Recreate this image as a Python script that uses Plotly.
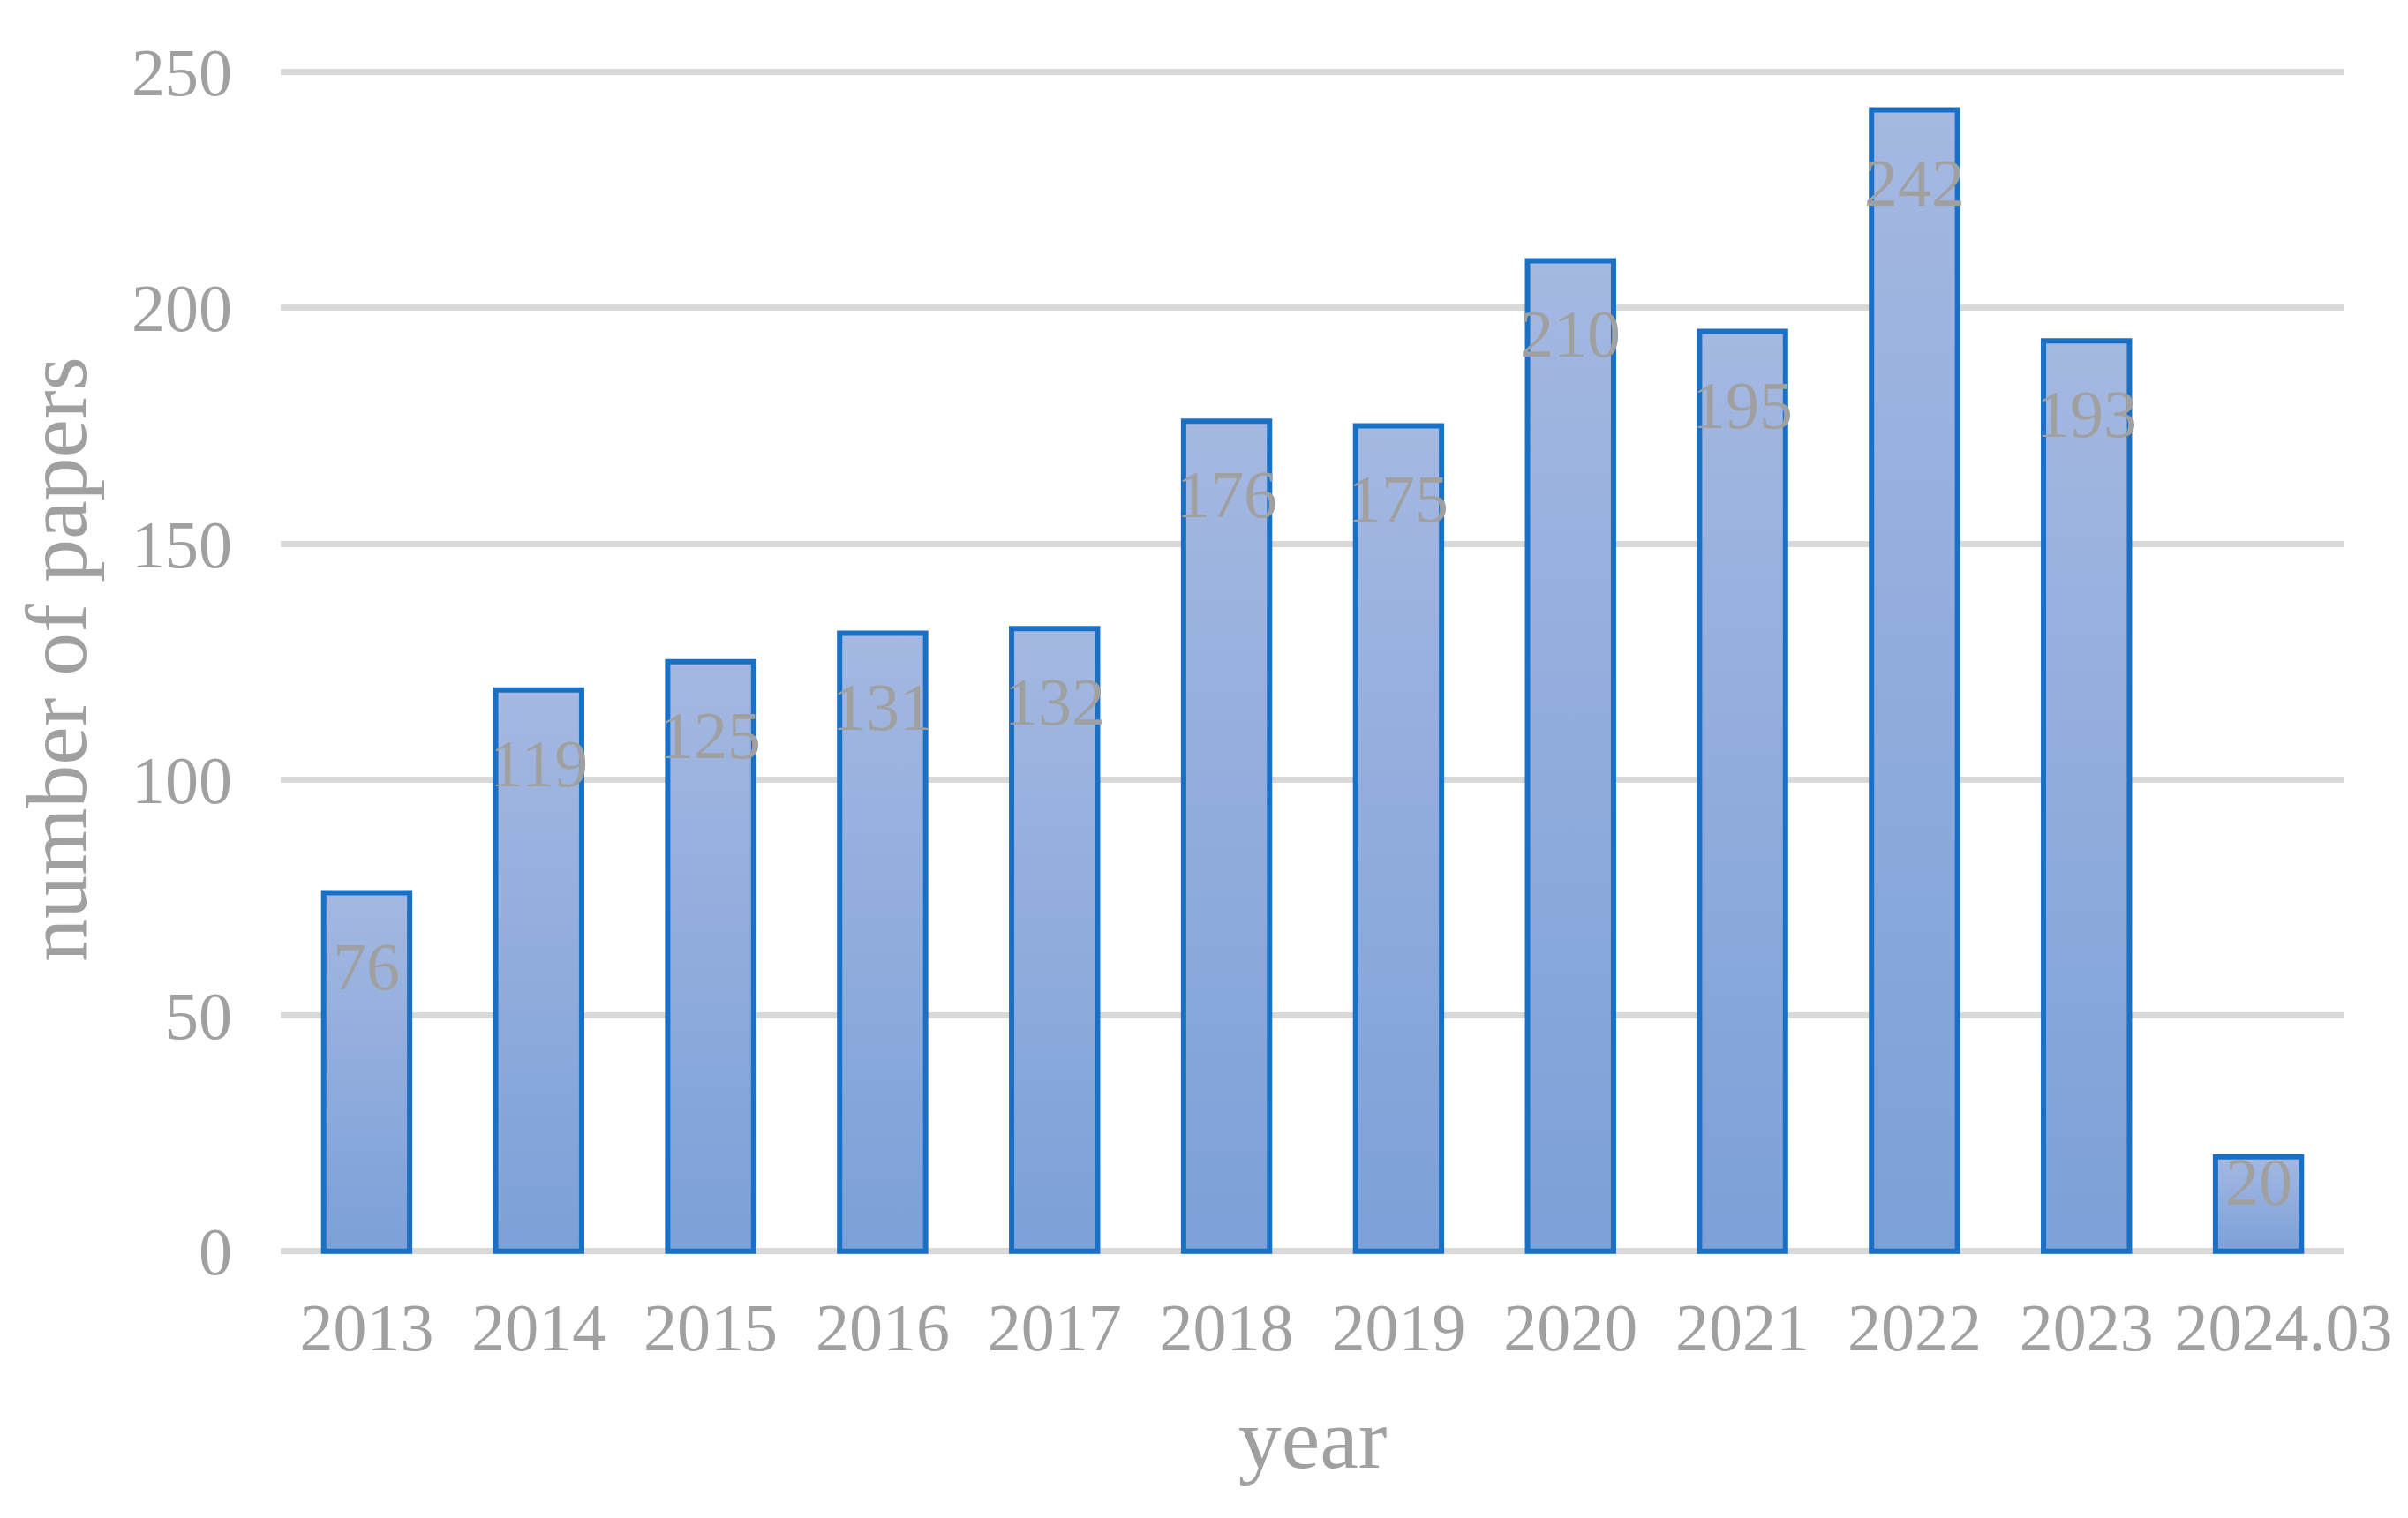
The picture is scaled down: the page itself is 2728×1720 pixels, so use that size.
import plotly.graph_objects as go

years = ['2013', '2014', '2015', '2016', '2017', '2018', '2019', '2020',
         '2021', '2022', '2023', '2024.03']
papers = [76, 119, 125, 131, 132, 176, 175, 210, 195, 242, 193, 20]
y_ticks = [0, 50, 100, 150, 200, 250]

GRAY = '#a0a0a0'
FONT = 'Times New Roman, Liberation Serif, serif'

# the last label is nudged right in the original so it clears "2023"
tick_text = years[:-1] + ['\u00a0\u00a0\u00a0' + years[-1]]

fig = go.Figure()
fig.add_trace(go.Bar(
    x=years,
    y=papers,
    width=0.5,
    marker=dict(color='#90abdc', line=dict(color='#1a70c4', width=6)),
    hoverinfo='x+y',
))

# value labels sit a fixed distance below the bar top (closer for short bars)
# numeric-looking category names get read as positions by annotations, so use the index
for i, val in enumerate(papers):
    fig.add_annotation(
        x=i, y=val, text=str(val), showarrow=False,
        yanchor='middle', yshift=-83 if val > 40 else -28,
        font=dict(family=FONT, size=76, color=GRAY),
    )

fig.update_layout(
    width=2728,
    height=1720,
    margin=dict(l=318, r=72, t=71, b=297, autoexpand=False),
    paper_bgcolor='white',
    plot_bgcolor='white',
    showlegend=False,
    font=dict(family=FONT, size=76, color=GRAY),
)

fig.update_xaxes(
    type='category',
    range=[-0.5, len(years) - 0.5],
    tickvals=years,
    ticktext=tick_text,
    tickangle=0,
    title=dict(text='year', font=dict(size=98, color=GRAY), standoff=49),
    showgrid=False,
    showline=False,
    ticks='',
    ticklabelstandoff=30,
    automargin=False,
)
fig.update_yaxes(
    title=dict(text='number of papers', font=dict(size=98, color=GRAY), standoff=18),
    range=[-1, 252],
    tickvals=y_ticks,
    showgrid=True,
    gridcolor='#d9d9d9',
    gridwidth=6.5,
    zeroline=False,
    showline=False,
    ticks='',
    ticklabelstandoff=54,
    automargin=False,
)

# drop the page margin and give the bars a vertical gradient, like the original
post = """
document.body.style.margin = '0';
var gd = document.getElementById('{plot_id}');
function paint() {
  var svg = gd.querySelector('svg.main-svg');
  var ns = 'http://www.w3.org/2000/svg';
  if (!document.getElementById('barfill')) {
    var defs = svg.querySelector('defs');
    if (!defs) { defs = document.createElementNS(ns, 'defs'); svg.insertBefore(defs, svg.firstChild); }
    var lg = document.createElementNS(ns, 'linearGradient');
    lg.setAttribute('id', 'barfill');
    lg.setAttribute('x1', '0'); lg.setAttribute('y1', '0');
    lg.setAttribute('x2', '0'); lg.setAttribute('y2', '1');
    [['0', '#a4b8e1'], ['1', '#7ca0d8']].forEach(function (s) {
      var st = document.createElementNS(ns, 'stop');
      st.setAttribute('offset', s[0]);
      st.setAttribute('stop-color', s[1]);
      lg.appendChild(st);
    });
    defs.appendChild(lg);
  }
  gd.querySelectorAll('.barlayer .point path').forEach(function (p) {
    p.style.fill = 'url(#barfill)';
  });
}
paint();
gd.on('plotly_afterplot', paint);
"""

fig.write_html("out.html", post_script=post, config={'displayModeBar': False})
